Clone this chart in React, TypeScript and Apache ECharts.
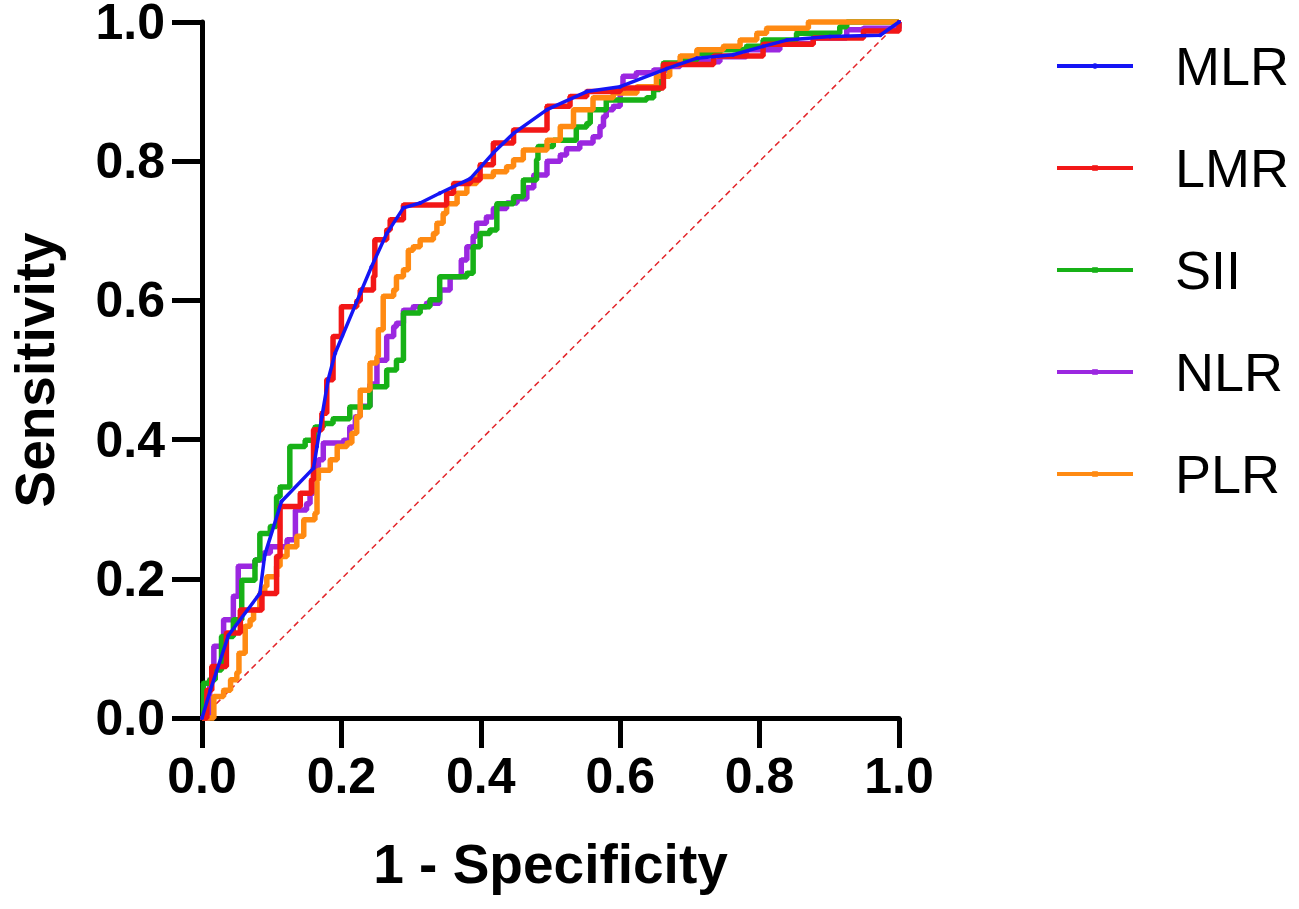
import React, { useEffect, useRef } from "react";
import * as echarts from "echarts";

const legendOrder = ["MLR", "LMR", "SII", "NLR", "PLR"];
const xTickValues = [0, 0.2, 0.4, 0.6, 0.8, 1.0];

const mlrFpr = [0, 0.012, 0.038, 0.083, 0.09, 0.114, 0.16, 0.165, 0.172, 0.181, 0.191, 0.227, 0.243, 0.265, 0.289, 0.313, 0.341, 0.385, 0.418, 0.447, 0.495, 0.552, 0.6, 0.667, 0.71, 0.762, 0.805, 0.839, 0.901, 0.973, 1.0];
const mlrTpr = [0, 0.04, 0.119, 0.179, 0.234, 0.311, 0.359, 0.39, 0.433, 0.486, 0.524, 0.61, 0.648, 0.696, 0.733, 0.74, 0.754, 0.775, 0.812, 0.84, 0.874, 0.9, 0.907, 0.933, 0.948, 0.953, 0.965, 0.974, 0.979, 0.981, 1.0];

const lmrFpr = [0, 0.007, 0.014, 0.035, 0.055, 0.086, 0.107, 0.112, 0.112, 0.141, 0.157, 0.16, 0.172, 0.179, 0.188, 0.2, 0.222, 0.227, 0.246, 0.248, 0.265, 0.27, 0.289, 0.327, 0.351, 0.361, 0.385, 0.399, 0.418, 0.447, 0.495, 0.528, 0.552, 0.6, 0.662, 0.734, 0.805, 0.877, 0.949, 1.0];
const lmrTpr = [0, 0.04, 0.074, 0.122, 0.155, 0.179, 0.232, 0.275, 0.304, 0.323, 0.342, 0.414, 0.438, 0.486, 0.548, 0.591, 0.599, 0.615, 0.634, 0.687, 0.701, 0.716, 0.737, 0.737, 0.754, 0.768, 0.773, 0.795, 0.826, 0.845, 0.879, 0.893, 0.9, 0.905, 0.939, 0.951, 0.968, 0.977, 0.987, 1.0];

const siiFpr = [0, 0.002, 0.011, 0.019, 0.028, 0.045, 0.057, 0.076, 0.083, 0.098, 0.107, 0.112, 0.126, 0.148, 0.162, 0.174, 0.188, 0.212, 0.241, 0.265, 0.279, 0.289, 0.313, 0.327, 0.341, 0.38, 0.389, 0.399, 0.413, 0.423, 0.447, 0.461, 0.48, 0.482, 0.504, 0.537, 0.552, 0.557, 0.58, 0.638, 0.648, 0.657, 0.662, 0.686, 0.71, 0.743, 0.781, 0.805, 0.853, 0.915, 0.925, 1.0];
const siiTpr = [0, 0.05, 0.055, 0.069, 0.117, 0.141, 0.198, 0.227, 0.265, 0.275, 0.318, 0.332, 0.39, 0.399, 0.418, 0.423, 0.43, 0.447, 0.476, 0.5, 0.514, 0.582, 0.591, 0.601, 0.634, 0.639, 0.677, 0.696, 0.701, 0.739, 0.749, 0.773, 0.802, 0.821, 0.83, 0.849, 0.854, 0.874, 0.888, 0.891, 0.903, 0.922, 0.941, 0.945, 0.955, 0.96, 0.965, 0.974, 0.984, 0.993, 1.0, 1.0];

const nlrFpr = [0, 0.011, 0.017, 0.031, 0.045, 0.052, 0.076, 0.088, 0.098, 0.122, 0.134, 0.15, 0.155, 0.16, 0.167, 0.174, 0.203, 0.212, 0.22, 0.227, 0.241, 0.251, 0.265, 0.275, 0.279, 0.289, 0.303, 0.322, 0.341, 0.356, 0.372, 0.38, 0.389, 0.394, 0.408, 0.418, 0.437, 0.452, 0.466, 0.476, 0.495, 0.514, 0.523, 0.542, 0.561, 0.571, 0.576, 0.58, 0.59, 0.6, 0.604, 0.623, 0.648, 0.662, 0.667, 0.686, 0.734, 0.743, 0.781, 0.829, 0.877, 0.925, 0.949, 1.0];
const nlrTpr = [0, 0.055, 0.103, 0.141, 0.175, 0.218, 0.227, 0.237, 0.246, 0.256, 0.299, 0.308, 0.323, 0.361, 0.371, 0.395, 0.399, 0.418, 0.433, 0.448, 0.48, 0.514, 0.548, 0.562, 0.567, 0.586, 0.591, 0.596, 0.615, 0.634, 0.658, 0.677, 0.692, 0.711, 0.72, 0.732, 0.74, 0.746, 0.762, 0.78, 0.8, 0.809, 0.818, 0.826, 0.835, 0.85, 0.864, 0.874, 0.879, 0.898, 0.922, 0.927, 0.931, 0.931, 0.936, 0.943, 0.943, 0.95, 0.96, 0.969, 0.977, 0.989, 0.991, 1.0];

const plrFpr = [0, 0.017, 0.031, 0.041, 0.05, 0.053, 0.062, 0.069, 0.074, 0.083, 0.09, 0.093, 0.107, 0.112, 0.122, 0.136, 0.146, 0.162, 0.165, 0.167, 0.184, 0.194, 0.208, 0.215, 0.222, 0.227, 0.241, 0.251, 0.253, 0.26, 0.275, 0.279, 0.289, 0.296, 0.303, 0.313, 0.332, 0.337, 0.346, 0.351, 0.366, 0.38, 0.394, 0.418, 0.437, 0.447, 0.461, 0.495, 0.514, 0.533, 0.561, 0.59, 0.624, 0.652, 0.671, 0.686, 0.71, 0.748, 0.772, 0.796, 0.81, 0.853, 0.87, 1.0];
const plrTpr = [0, 0.031, 0.04, 0.055, 0.065, 0.093, 0.132, 0.141, 0.155, 0.179, 0.189, 0.203, 0.218, 0.232, 0.246, 0.261, 0.285, 0.294, 0.342, 0.356, 0.371, 0.39, 0.395, 0.409, 0.433, 0.471, 0.51, 0.519, 0.558, 0.606, 0.615, 0.634, 0.644, 0.672, 0.677, 0.687, 0.696, 0.711, 0.725, 0.739, 0.754, 0.768, 0.778, 0.785, 0.792, 0.802, 0.816, 0.83, 0.85, 0.874, 0.891, 0.898, 0.907, 0.922, 0.939, 0.951, 0.96, 0.965, 0.974, 0.984, 0.991, 0.991, 1.0, 1.0];

const refFpr = [0, 1];
const refTpr = [0, 1];

const FONT = "'Liberation Sans', Arial, Helvetica, sans-serif";

const zip = (xs: number[], ys: number[]) => xs.map((x, i) => [x, ys[i]]);

export default function App() {
  const ref = useRef<HTMLDivElement>(null);
  useEffect(() => {
    document.body.style.margin = "0";
    const chart = echarts.init(ref.current!, null, { renderer: "svg" });
    const axisCommon = {
      type: "value" as const,
      min: 0,
      max: 1,
      interval: 0.2,
      splitLine: { show: false },
      axisLine: { show: true, lineStyle: { color: "#000", width: 5 } },
      axisTick: { show: true, length: 30, lineStyle: { color: "#000", width: 5 } },
      axisLabel: {
        formatter: (v: number) => v.toFixed(1),
        fontSize: 50,
        lineHeight: 42,
        fontWeight: "bold" as const,
        color: "#000",
        fontFamily: FONT,
        margin: 37,
      },
      nameLocation: "middle" as const,
      nameTextStyle: { fontSize: 55, fontWeight: "bold" as const, color: "#000", fontFamily: FONT },
    };
    const stepSeries = (name: string, fpr: number[], tpr: number[], color: string, z: number) => ({
      name,
      type: "line",
      data: zip(fpr, tpr),
      step: "end",
      symbol: "rect",
      symbolSize: 4,
      showSymbol: true,
      clip: false,
      z,
      itemStyle: { color },
      lineStyle: { color, width: 5.5 },
    });
    chart.setOption({
      animation: false,
      grid: { left: 202, top: 22, width: 697, height: 696, containLabel: false, outerBoundsMode: "none" },
      xAxis: { ...axisCommon, name: "1 - Specificity", nameGap: 118 },
      yAxis: { ...axisCommon, name: "Sensitivity", nameGap: 140 },
      legend: {
        data: legendOrder,
        orient: "vertical",
        left: 1055,
        top: 39,
        padding: 0,
        itemWidth: 76,
        itemHeight: 7,
        itemGap: 48,
        lineStyle: { width: 4 },
        textStyle: { fontSize: 54, lineHeight: 54, color: "#000", fontFamily: FONT, padding: [0, 0, 0, 37] },
      },
      series: [
        {
          name: "ref",
          type: "line",
          data: zip(refFpr, refTpr),
          symbol: "none",
          silent: true,
          z: 1,
          lineStyle: { color: "#e3262b", width: 1.5, type: [6, 4] },
        },
        stepSeries("NLR", nlrFpr, nlrTpr, "#9b27e0", 2),
        stepSeries("SII", siiFpr, siiTpr, "#17b117", 3),
        stepSeries("PLR", plrFpr, plrTpr, "#ff8a12", 4),
        stepSeries("LMR", lmrFpr, lmrTpr, "#f21717", 5),
        {
          name: "MLR",
          type: "line",
          data: zip(mlrFpr, mlrTpr),
          symbol: "circle",
          symbolSize: 4,
          showSymbol: true,
          clip: false,
          z: 6,
          itemStyle: { color: "#1515f5" },
          lineStyle: { color: "#1515f5", width: 3.5 },
        },
      ],
    });
    return () => chart.dispose();
  }, []);
  return <div ref={ref} style={{ width: 1299, height: 909 }} />;
}
